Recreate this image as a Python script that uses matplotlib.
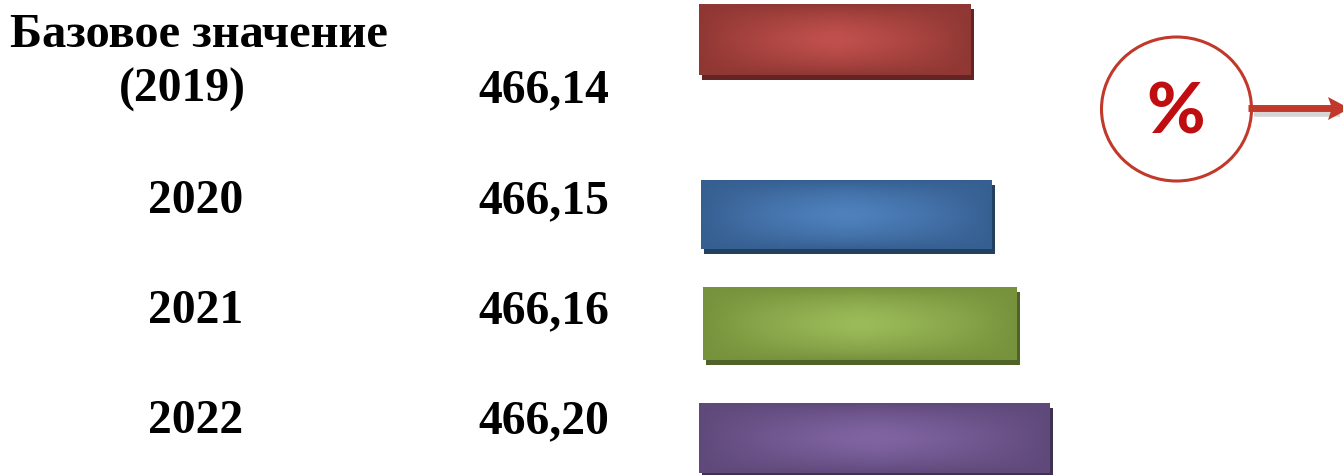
#!/usr/bin/env python3

import numpy as np
from matplotlib import pyplot as plt
from matplotlib.patches import Ellipse, Polygon

plt.rcParams['font.family'] = ['Liberation Serif', 'DejaVu Serif']

years = ['(2019)', '2020', '2021', '2022']
values = ['466,14', '466,15', '466,16', '466,20']
# bar lengths as drawn, the picture does not scale them to the values
bar_lengths = [272, 291, 314, 351]
bar_left = [699, 701, 703, 699]
bar_top = [4, 180, 287, 403]
bar_height = [71, 69, 73, 70]

edge_colors = ['#8f3733', '#365f91', '#76923c', '#5f497a']
mid_colors = ['#c0504d', '#4f81bd', '#9bbb59', '#8064a2']
shadow_colors = ['#632423', '#244061', '#4f6228', '#3f3151']

year_x = [182, 196, 196, 196]
baselines = [102, 213, 323, 433]
value_x = 478
text_size = 34.3

fig = plt.figure(figsize=(13.43, 4.75), dpi=100)
ax = fig.add_axes([0, 0, 1, 1])
ax.set_xlim(0, 1343)
ax.set_ylim(475, 0)
ax.axis('off')


def hex_rgb(c):
    return np.array([int(c[i:i + 2], 16) for i in (1, 3, 5)]) / 255.0


# soft glow in the middle of a bar, dark toward the edges
def bar_texture(edge, mid, n=120):
    u, v = np.meshgrid(np.linspace(-1, 1, n * 3), np.linspace(-1, 1, n))
    t = np.clip(1 - np.abs(v) ** 1.6, 0, 1) * np.clip(1 - np.abs(u) ** 1.3, 0, 1)
    return hex_rgb(edge) + (hex_rgb(mid) - hex_rgb(edge)) * t[..., None] ** 0.9


shadow_bars = ax.barh(np.array(bar_top) + np.array(bar_height) / 2 + 5, bar_lengths,
                      height=bar_height, left=np.array(bar_left) + 3,
                      color=shadow_colors, linewidth=0, zorder=1)
bars = ax.barh(np.array(bar_top) + np.array(bar_height) / 2, bar_lengths,
               height=bar_height, left=bar_left, color=edge_colors, linewidth=0, zorder=2)

for bar, e, m in zip(bars, edge_colors, mid_colors):
    x0, w = bar.get_x(), bar.get_width()
    y0, h = bar.get_y(), bar.get_height()
    ax.imshow(bar_texture(e, m), extent=(x0, x0 + w, y0 + h, y0), aspect='auto',
              interpolation='bilinear', zorder=3)
ax.set_xlim(0, 1343)
ax.set_ylim(475, 0)

# labels
ax.text(199, 47, 'Базовое значение', fontsize=34.9, fontweight='bold',
        ha='center', va='baseline', color='black')
for x, y, yr, val in zip(year_x, baselines, years, values):
    ax.text(x, y, yr, fontsize=text_size, fontweight='bold', ha='center', va='baseline')
    ax.text(value_x, y, val, fontsize=text_size, fontweight='bold', ha='left', va='baseline')

# percent badge with arrow
ax.add_patch(Ellipse((1176.5, 109), 150, 144, facecolor='white', edgecolor='#c0392b',
                     linewidth=2.2, zorder=4))
ax.text(1176, 107.5, '%', fontsize=51, fontweight='black', family=['Lato', 'DejaVu Sans'],
        color='#c00d10', ha='center', va='center_baseline', zorder=5)
ax.plot([1254, 1340], [114, 114], color='#c4c4c4', linewidth=4, alpha=0.7,
        solid_capstyle='butt', zorder=3)
ax.plot([1248, 1343], [108, 108], color='#c0392b', linewidth=5, solid_capstyle='butt', zorder=4)
ax.add_patch(Polygon([[1328, 97], [1343, 105], [1343, 112], [1328, 120], [1332, 108]],
                     closed=True, facecolor='#c0392b', edgecolor='none', zorder=4))

fig.savefig('out.png', dpi=100)
